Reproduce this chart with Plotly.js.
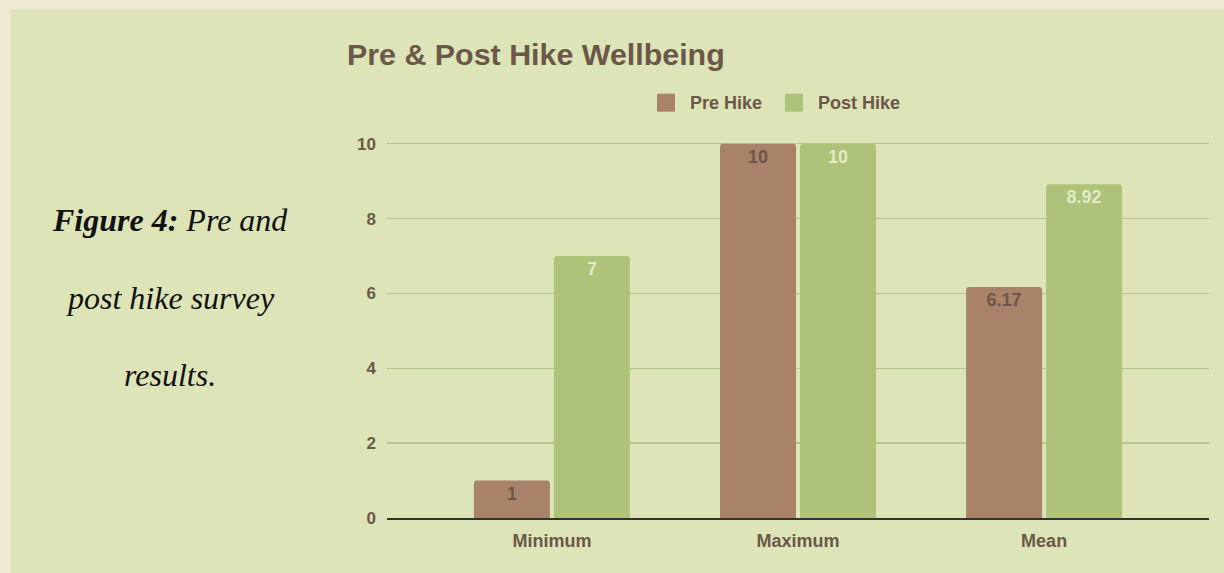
<!DOCTYPE html>
<html>
<head>
<meta charset="utf-8">
<script src="https://cdn.plot.ly/plotly-3.0.1.min.js"></script>
<style>
  html, body { margin: 0; padding: 0; background: #efe8d3; width: 1224px; height: 573px; overflow: hidden; }
  #chart { position: absolute; left: 11px; top: 9px; width: 1213px; height: 564px; }
</style>
</head>
<body>
<div id="chart"></div>
<script>
const categories = ["Minimum", "Maximum", "Mean"];
const seriesNames = ["Pre Hike", "Post Hike"];
const preHike = [1, 10, 6.17];
const postHike = [7, 10, 8.92];
const yTicks = [0, 2, 4, 6, 8, 10];
const captionLines = ["<b>Figure 4:</b> Pre and", "post hike survey", "results."];

const textColorMain = "#6b5849";
const barColors = ["#a8836a", "#aec27a"];
const labelColors = ["#6e5748", "#e3eac6"];
const fontSans = "Liberation Sans, Arial, sans-serif";

const seriesValues = [preHike, postHike];
const traces = seriesValues.map((vals, i) => ({
  type: "bar", name: seriesNames[i], x: categories, y: vals,
  text: vals.map(String), textposition: "inside", insidetextanchor: "end",
  textangle: 0,
  textfont: { family: fontSans, size: 18, color: labelColors[i], weight: "bold" },
  marker: { color: barColors[i], cornerradius: 3 },
  hoverinfo: "skip", showlegend: false
}));

// geometry helpers (div pixels -> paper coords)
const yMax = 10.1;
const plotLeft = 376, plotWidth = 822, plotBottom = 509;
const pxPerUnit = 37.4;
const plotTop = plotBottom - yMax * pxPerUnit;
function paperX(divX) { return (divX - plotLeft) / plotWidth; }
function paperY(divY) { return (plotBottom - divY) / (plotBottom - plotTop); }
const captionY = [211, 289, 366];

// custom legend (larger square swatches as in the reference)
const legendSwatchX = [646, 774];
const legendTextX = [677, 805];
const legendTop = 85, legendSize = 18, legendMid = 94;
const legendShapes = seriesNames.map((n, i) => ({
  type: "rect", xref: "paper", yref: "paper",
  x0: paperX(legendSwatchX[i]), x1: paperX(legendSwatchX[i] + legendSize),
  y0: paperY(legendTop + legendSize), y1: paperY(legendTop),
  fillcolor: barColors[i], line: { width: 0 }, layer: "above"
}));
const legendTexts = seriesNames.map((n, i) => ({
  text: "<b>" + n + "</b>", xref: "paper", yref: "paper",
  x: paperX(legendTextX[i]), y: paperY(legendMid), xanchor: "left", yanchor: "middle",
  showarrow: false, font: { family: fontSans, size: 18, color: textColorMain }
}));

const captionAnn = captionLines.map((t, i) => ({
  text: "<i>" + t + "</i>", xref: "paper", yref: "paper",
  x: paperX(159), y: paperY(captionY[i]), xanchor: "center", yanchor: "middle",
  showarrow: false,
  font: { family: "Liberation Serif, Times New Roman, serif", size: 32, color: "#111111" }
}));

const layout = {
  width: 1213, height: 564,
  paper_bgcolor: "#dde4b7", plot_bgcolor: "#dde4b7",
  margin: { l: plotLeft, r: 1213 - plotLeft - plotWidth, t: plotTop, b: 564 - plotBottom, pad: 0 },
  font: { family: fontSans, color: textColorMain },
  title: {
    text: "<b>Pre & Post Hike Wellbeing</b>",
    font: { size: 30.4, color: textColorMain },
    xref: "container", x: 336 / 1213, xanchor: "left",
    yref: "container", y: 1 - 45 / 564, yanchor: "middle"
  },
  showlegend: false,
  barmode: "group", bargap: 0.35, bargroupgap: 0.05,
  xaxis: {
    type: "category", range: [-0.67, 2.67],
    showgrid: false, showline: true, linecolor: "#333333", linewidth: 1.5,
    ticks: "", ticklabelstandoff: 6,
    tickfont: { size: 18, color: textColorMain, weight: "bold" },
    fixedrange: true
  },
  yaxis: {
    range: [0, yMax], tickvals: yTicks, ticktext: yTicks.map(String),
    showgrid: true, gridcolor: "#b3c886", gridwidth: 1.5, zeroline: false,
    ticks: "", ticklabelstandoff: 10,
    tickfont: { size: 17, color: textColorMain, weight: "bold" },
    fixedrange: true
  },
  shapes: legendShapes,
  annotations: captionAnn.concat(legendTexts)
};

Plotly.newPlot("chart", traces, layout, { displayModeBar: false, staticPlot: true });
</script>
</body>
</html>
